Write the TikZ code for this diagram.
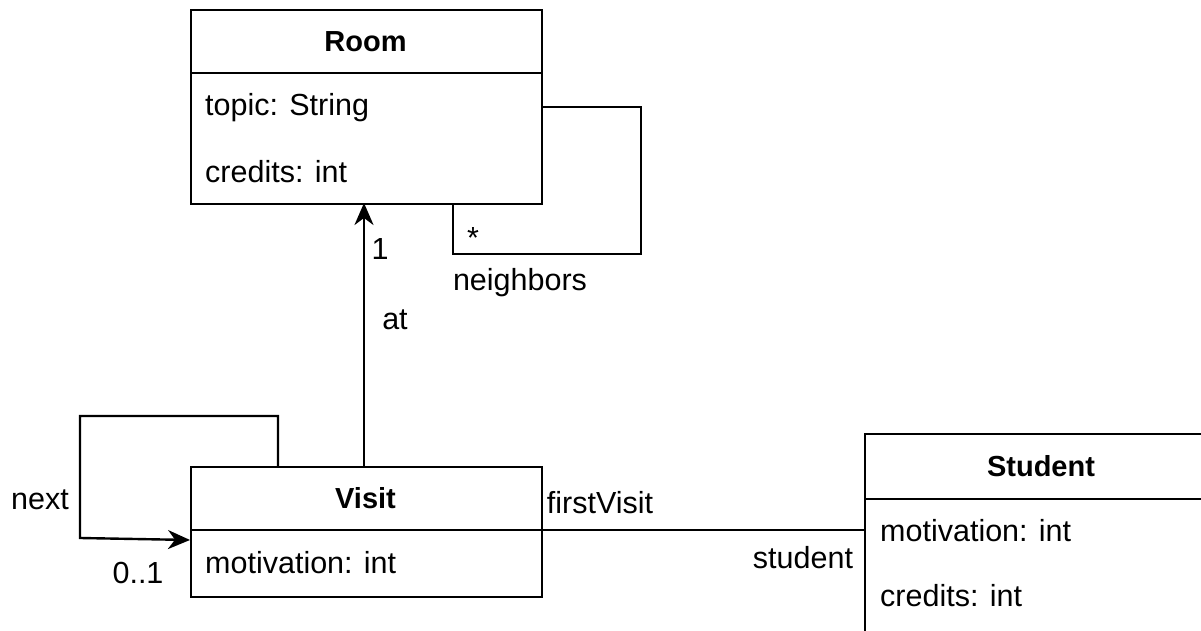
\documentclass[tikz,border=0pt]{standalone}
\usepackage{fontspec}
\setmainfont{Liberation Sans}
\usetikzlibrary{arrows.meta}
\begin{document}
\begin{tikzpicture}[x=1pt,y=1pt,
  cls/.style={draw, line width=2.4pt, minimum width=351pt, anchor=north west, inner sep=0pt},
  ttl/.style={font=\fontsize{29}{30}\selectfont\bfseries, inner sep=0pt},
  attr/.style={font=\fontsize{30.5}{31}\selectfont, anchor=west, inner sep=0pt},
  lbl/.style={font=\fontsize{30.5}{31}\selectfont, inner sep=0pt},
  conn/.style={line width=2.4pt},
  tip/.tip={Stealth[length=22pt,width=19pt,inset=7pt]},
  arr/.style={line width=2.4pt, -tip}]
\useasboundingbox (0,0) rectangle (1201,631);
\clip (0,0) rectangle (1201,631);
% Room
\node[cls, minimum height=194pt] (room) at (190,622) {};
\draw[conn] (190,558) -- (541,558);
\node[ttl] (roomT) at (365.5,589) {Room};
\node[attr] (roomA1) at (205,523) {topic: String};
\node[attr] (roomA2) at (205,459) {credits: int};
% Visit
\node[cls, minimum height=130pt] (visit) at (190,165) {};
\draw[conn] (190,101) -- (541,101);
\node[ttl] (visitT) at (365.5,133) {Visit};
\node[attr] (visitA1) at (205,68) {motivation: int};
% Student
\node[cls, minimum width=380pt, minimum height=240pt] (student) at (864,198) {};
\draw[conn] (864,132) -- (1244,132);
\node[ttl] (studentT) at (1041,165) {Student};
\node[attr] (studentA1) at (880,100) {motivation: int};
\node[attr] (studentA2) at (880,35) {credits: int};
% at association
\coordinate (atS) at (364,165);
\coordinate (atE) at (364,428);
\draw[arr] (atS) -- (atE);
\node[lbl] (one) at (380,382) {1};
\node[lbl] (at) at (395,311) {at};
% neighbors self loop
\coordinate (nbS) at (541,524);
\coordinate (nbE) at (453,428);
\draw[conn] (nbS) -- (641,524) -- (641,377) -- (453,377) -- (nbE);
\node[lbl] (star) at (473,393) {*};
\node[lbl] (neighbors) at (520,348) {neighbors};
% next self loop
\coordinate (nxS) at (278,165);
\coordinate (nxE) at (190,91);
\draw[arr] (nxS) -- (278,215) -- (80,215) -- (80,93) -- (nxE);
\node[lbl] (next) at (40,131) {next};
\node[lbl] (zo) at (138,58) {0..1};
% firstVisit / student
\coordinate (fvS) at (541,101);
\coordinate (fvE) at (864,101);
\draw[conn] (fvS) -- (fvE);
\node[lbl] (fv) at (600,128) {firstVisit};
\node[lbl] (st) at (803,73) {student};
\end{tikzpicture}
\end{document}
